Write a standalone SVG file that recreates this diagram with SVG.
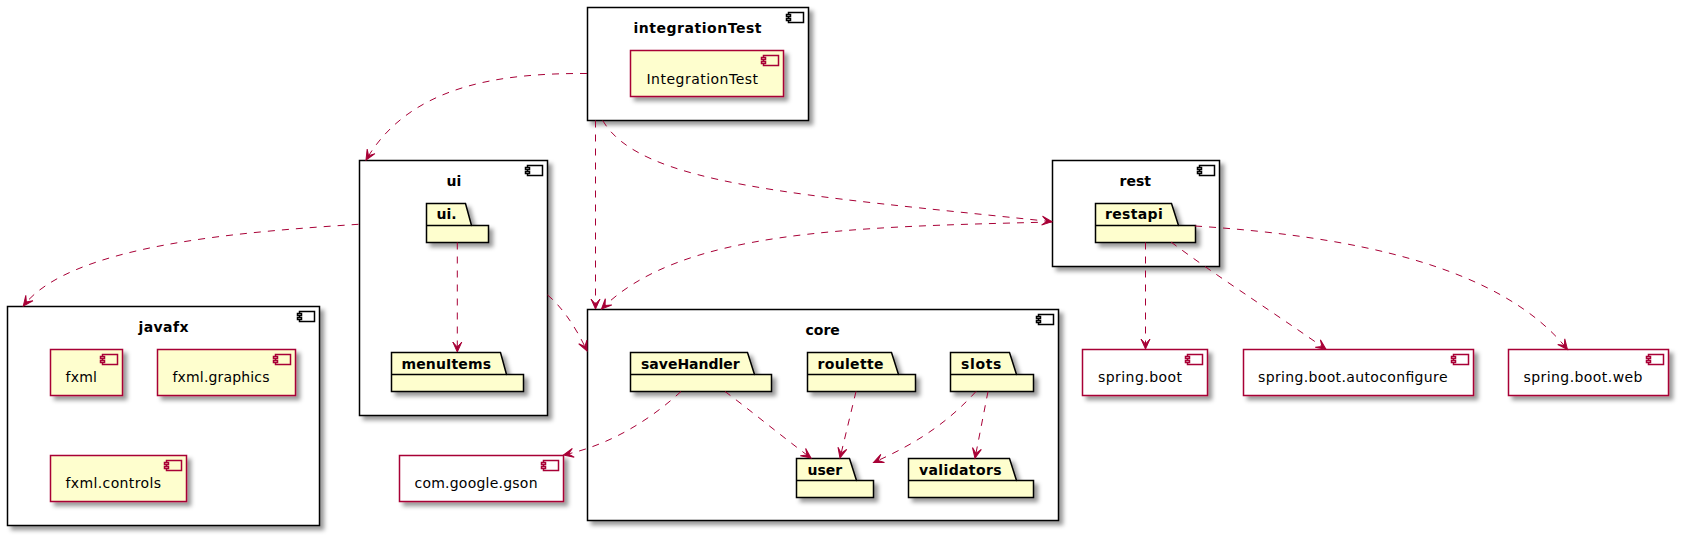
<svg xmlns="http://www.w3.org/2000/svg" width="1681" height="538" viewBox="0 0 1681 538">
<style>
text{font-family:"DejaVu Sans",sans-serif;font-size:14px;fill:#000}
.t{font-weight:bold}
.p{font-weight:bold}
.box{fill:#fff;stroke:#000;stroke-width:1.5;filter:url(#sh)}
.cmp{fill:#FEFECE;stroke:#A80036;stroke-width:1.5;filter:url(#sh)}
.ext{fill:#fff;stroke:#A80036;stroke-width:1.5;filter:url(#sh)}
.pkg{fill:#FEFECE;stroke:#000;stroke-width:1.5;filter:url(#sh)}
.ln{fill:none;stroke:#000;stroke-width:1.5}
.ib{fill:#fff;stroke:#000;stroke-width:1.5}
.ic{fill:#FEFECE;stroke:#A80036;stroke-width:1.5}
.iw{fill:#fff;stroke:#A80036;stroke-width:1.5}
#conn path{fill:none;stroke:#A80036;stroke-width:1;stroke-dasharray:7,7;marker-end:url(#ah)}
</style>
<defs>
<filter id="sh" x="-20%" y="-20%" width="150%" height="150%"><feDropShadow dx="4" dy="4" stdDeviation="2" flood-color="#000" flood-opacity="0.4"/></filter>
<marker id="ah" markerUnits="userSpaceOnUse" markerWidth="12" markerHeight="12" refX="10" refY="6" orient="auto" overflow="visible"><path d="M10,6 L0,1.5 L5,6 L0,10.5 Z" style="fill:#A80036;stroke:#A80036;stroke-width:1;stroke-dasharray:none;marker-end:none"/></marker>
<g id="icb"><rect class="ib" x="0" y="0" width="15" height="10"/><rect class="ib" x="-2" y="2" width="4" height="2"/><rect class="ib" x="-2" y="6" width="4" height="2"/></g>
<g id="icc"><rect class="ic" x="0" y="0" width="15" height="10"/><rect class="ic" x="-2" y="2" width="4" height="2"/><rect class="ic" x="-2" y="6" width="4" height="2"/></g>
<g id="icw"><rect class="iw" x="0" y="0" width="15" height="10"/><rect class="iw" x="-2" y="2" width="4" height="2"/><rect class="iw" x="-2" y="6" width="4" height="2"/></g>
</defs>

<g id="integrationTest">
<rect class="box" x="587.5" y="7.5" width="221" height="113"/>
<use href="#icb" x="788.5" y="12.5"/>
<text class="t" x="633.5" y="32.5" textLength="128">integrationTest</text>
<g id="IntegrationTest">
<rect class="cmp" x="630.5" y="50.5" width="153" height="46"/>
<use href="#icc" x="763.5" y="55.5"/>
<text x="646.5" y="83.5" textLength="111.5">IntegrationTest</text>
</g>
</g>

<g id="ui">
<rect class="box" x="359.5" y="160.5" width="188" height="255"/>
<use href="#icb" x="527.5" y="165.5"/>
<text class="t" x="446.5" y="186">ui</text>
<g id="ui-pkg">
<path class="pkg" d="M426.5,203.5 H465.5 L471.5,225.5 H488.5 V242.5 H426.5 Z"/>
<path class="ln" d="M426.5,225.5 H471.5"/>
<text class="p" x="436.5" y="219">ui.</text>
</g>
<g id="menuItems">
<path class="pkg" d="M391.5,352.5 H500.5 L506.5,374.5 H523.5 V391.5 H391.5 Z"/>
<path class="ln" d="M391.5,374.5 H506.5"/>
<text class="p" x="401.5" y="368.5" textLength="89.5">menuItems</text>
</g>
</g>

<g id="javafx">
<rect class="box" x="7.5" y="306.5" width="312" height="219"/>
<use href="#icb" x="299.5" y="311.5"/>
<text class="t" x="138.5" y="331.5" textLength="50">javafx</text>
<g id="fxml">
<rect class="cmp" x="50.5" y="349.5" width="72" height="46"/>
<use href="#icc" x="102.5" y="354.5"/>
<text x="65.5" y="382" textLength="31.5">fxml</text>
</g>
<g id="fxml.graphics">
<rect class="cmp" x="157.5" y="349.5" width="138" height="46"/>
<use href="#icc" x="275.5" y="354.5"/>
<text x="172.5" y="382" textLength="97">fxml.graphics</text>
</g>
<g id="fxml.controls">
<rect class="cmp" x="50.5" y="455.5" width="136" height="46"/>
<use href="#icc" x="166.5" y="460.5"/>
<text x="65.5" y="488" textLength="95.5">fxml.controls</text>
</g>
</g>

<g id="core">
<rect class="box" x="587.5" y="309.5" width="471" height="211"/>
<use href="#icb" x="1038.5" y="314.5"/>
<text class="t" x="805.5" y="335">core</text>
<g id="saveHandler">
<path class="pkg" d="M630.5,352.5 H747.5 L754.5,374.5 H771.5 V391.5 H630.5 Z"/>
<path class="ln" d="M630.5,374.5 H754.5"/>
<text class="p" x="641" y="368.5">saveHandler</text>
</g>
<g id="roulette">
<path class="pkg" d="M807.5,352.5 H891.5 L898.5,374.5 H915.5 V391.5 H807.5 Z"/>
<path class="ln" d="M807.5,374.5 H898.5"/>
<text class="p" x="817.5" y="368.5" textLength="66">roulette</text>
</g>
<g id="slots">
<path class="pkg" d="M950.5,352.5 H1009.5 L1016.5,374.5 H1033.5 V391.5 H950.5 Z"/>
<path class="ln" d="M950.5,374.5 H1016.5"/>
<text class="p" x="961" y="368.5" textLength="40.4">slots</text>
</g>
<g id="user">
<path class="pkg" d="M796.5,458.5 H849.5 L856.5,480.5 H873.5 V497.5 H796.5 Z"/>
<path class="ln" d="M796.5,480.5 H856.5"/>
<text class="p" x="807.5" y="474.5">user</text>
</g>
<g id="validators">
<path class="pkg" d="M908.5,458.5 H1009.5 L1016.5,480.5 H1033.5 V497.5 H908.5 Z"/>
<path class="ln" d="M908.5,480.5 H1016.5"/>
<text class="p" x="919" y="474.5" textLength="82.5">validators</text>
</g>
</g>

<g id="rest">
<rect class="box" x="1052.5" y="160.5" width="167" height="106"/>
<use href="#icb" x="1199.5" y="165.5"/>
<text class="t" x="1119.5" y="186">rest</text>
<g id="restapi">
<path class="pkg" d="M1095.5,203.5 H1171.5 L1178.5,225.5 H1195.5 V242.5 H1095.5 Z"/>
<path class="ln" d="M1095.5,225.5 H1178.5"/>
<text class="p" x="1105" y="219" textLength="57.7">restapi</text>
</g>
</g>

<g id="com.google.gson">
<rect class="ext" x="399.5" y="455.5" width="164" height="46"/>
<use href="#icw" x="543.5" y="460.5"/>
<text x="414.5" y="488" textLength="123">com.google.gson</text>
</g>
<g id="spring.boot">
<rect class="ext" x="1082.5" y="349.5" width="125" height="46"/>
<use href="#icw" x="1187.5" y="354.5"/>
<text x="1098" y="382" textLength="84">spring.boot</text>
</g>
<g id="spring.boot.autoconfigure">
<rect class="ext" x="1243.5" y="349.5" width="230" height="46"/>
<use href="#icw" x="1453.5" y="354.5"/>
<text x="1258" y="382" textLength="189.5">spring.boot.autoconfigure</text>
</g>
<g id="spring.boot.web">
<rect class="ext" x="1508.5" y="349.5" width="160" height="46"/>
<use href="#icw" x="1648.5" y="354.5"/>
<text x="1523.5" y="382" textLength="119">spring.boot.web</text>
</g>

<g id="conn">
<path d="M587,73.5 C500,73 410,85 366,160"/>
<path d="M595.5,120.5 L595.5,309"/>
<path d="M602.7,120.5 C640,185 800,195 1052,221.7"/>
<path d="M1052,222 C850,227 680,230 601.5,309"/>
<path d="M358.5,224.3 C240,232 70,245 23.3,306"/>
<path d="M457.3,242.5 L457.3,352"/>
<path d="M547.5,295 C560,305 575,325 587,351"/>
<path d="M681,391.5 C650,420 610,445 563.5,455"/>
<path d="M725,391.5 C750,410 780,435 811,458"/>
<path d="M856,391.5 L840,458"/>
<path d="M976,391.5 C950,420 920,442 873.5,462.5"/>
<path d="M988,391.5 L975,458.3"/>
<path d="M1145.5,242.5 L1145.5,349"/>
<path d="M1171,242 C1215,275 1270,310 1326,349.3"/>
<path d="M1195,226 C1350,236 1500,265 1567.5,349.5"/>
</g>
</svg>
